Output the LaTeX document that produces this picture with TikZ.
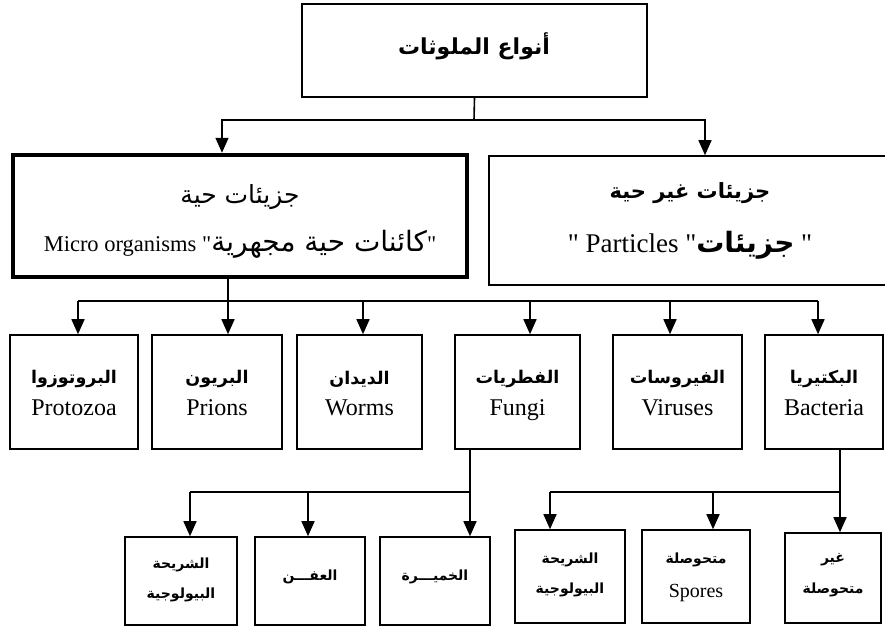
\documentclass[tikz,border=0pt]{standalone}
\usepackage{fontspec}
\setmainfont{Liberation Serif}[Ligatures=TeXOff]
\newfontfamily\arabicfont[Script=Arabic]{DejaVu Sans}
\TeXXeTstate=1
\usetikzlibrary{arrows.meta,calc}
\newcommand{\ar}[1]{{\arabicfont\beginR #1\endR}}
\newcommand{\fs}[1]{\fontsize{#1}{#1}\selectfont}

\begin{document}
\begin{tikzpicture}[x=1pt,y=-1pt,
  box/.style 2 args={draw,line width=1.6pt,minimum width=#1,minimum height=#2,inner sep=0pt},
  conn/.style={line width=1.6pt},
  arr/.style={line width=1.6pt,-{Triangle[width=13pt,length=15pt]}},
  lbl/.style={inner sep=0pt,anchor=center},
  arL/.style={lbl,font=\arabicfont\bfseries\fs{17.5}},
  arS/.style={lbl,font=\arabicfont\bfseries\fs{14}},
  enL/.style={inner sep=0pt,anchor=base,font=\fs{24}}]
\useasboundingbox (0,0) rectangle (885,629);
\clip (0,0) rectangle (885,629);
\fill[white] (0,0) rectangle (885,629);

% root
\node[box={345pt}{93pt}] (root) at (474.5,50.5) {};
\node[lbl,font=\arabicfont\bfseries\fs{22}] (rootT) at (474,46) {\ar{أنواع الملوثات}};

% second level
\node[box={454pt}{122pt},line width=4.5pt] (micro) at (240,216) {};
\node[lbl,font=\arabicfont\fs{25}] (microA) at (240,197) {\ar{جزيئات حية}};
\node[inner sep=0pt,anchor=base,font=\fs{22.5}] (microE) at (240,251) {Micro organisms "{\arabicfont\fs{28}\ar{كائنات حية مجهرية}}"};

\node[box={402pt}{129pt}] (part) at (690,220.5) {};
\node[lbl,font=\arabicfont\bfseries\fs{21}] (partA) at (690,193) {\ar{جزيئات غير حية}};
\node[inner sep=0pt,anchor=base,font=\fs{27}] (partE) at (690,252) {" Particles "{\arabicfont\bfseries\fs{28}\ar{جزيئات}} "};

\coordinate (j0) at (474,120);
\coordinate (j1) at (222,120);
\coordinate (j2) at (705,120);
\draw[conn] (root.south) -- (j0);
\draw[arr] (j0) -- (j1) -- (j1 |- micro.north);
\draw[arr] (j0) -- (j2) -- (j2 |- part.north);

% third level
\node[box={128pt}{114pt}] (prot) at (74,392) {};
\node[box={130pt}{114pt}] (prion) at (217,392) {};
\node[box={125pt}{114pt}] (worm) at (359.5,392) {};
\node[box={125pt}{114pt}] (fungi) at (517.5,392) {};
\node[box={129pt}{114pt}] (virus) at (677.5,392) {};
\node[box={118pt}{114pt}] (bact) at (824,392) {};

\node[arL] (protA) at (74,379) {\ar{البروتوزوا}};
\node[enL] (protE) at (74,415) {Protozoa};
\node[arL] (prionA) at (217,379) {\ar{البريون}};
\node[enL] (prionE) at (217,415) {Prions};
\node[arL] (wormA) at (359.5,379) {\ar{الديدان}};
\node[enL] (wormE) at (359.5,415) {Worms};
\node[arL] (fungiA) at (517.5,379) {\ar{الفطريات}};
\node[enL] (fungiE) at (517.5,415) {Fungi};
\node[arL] (virusA) at (677.5,379) {\ar{الفيروسات}};
\node[enL] (virusE) at (677.5,415) {Viruses};
\node[arL] (bactA) at (824,379) {\ar{البكتيريا}};
\node[enL] (bactE) at (824,415) {Bacteria};

\coordinate (t1) at (78,301);
\coordinate (t2) at (228,301);
\coordinate (t3) at (363,301);
\coordinate (t4) at (530,301);
\coordinate (t5) at (670,301);
\coordinate (t6) at (818,301);
\draw[conn] (t2 |- micro.south) -- (t2);
\draw[conn] (t1) -- (t6);
\draw[arr] (t1) -- (t1 |- prot.north);
\draw[arr] (t2) -- (t2 |- prion.north);
\draw[arr] (t3) -- (t3 |- worm.north);
\draw[arr] (t4) -- (t4 |- fungi.north);
\draw[arr] (t5) -- (t5 |- virus.north);
\draw[arr] (t6) -- (t6 |- bact.north);

% fourth level, under fungi
\node[box={112pt}{88pt}] (fbio) at (181,581) {};
\node[box={110pt}{88pt}] (mold) at (310,581) {};
\node[box={110pt}{88pt}] (yeast) at (435,581) {};
\node[arS] (fbioA) at (181,565) {\ar{الشريحة}};
\node[arS] (fbioB) at (181,595) {\ar{البيولوجية}};
\node[arS] (moldA) at (310,577) {\ar{العفـــن}};
\node[arS] (yeastA) at (435,577) {\ar{الخميـــرة}};

\coordinate (f0) at (470,492);
\coordinate (u1) at (190,492);
\coordinate (u2) at (308,492);
\draw[conn] (f0 |- fungi.south) -- (f0);
\draw[conn] (u1) -- (f0);
\draw[arr] (u1) -- (u1 |- fbio.north);
\draw[arr] (u2) -- (u2 |- mold.north);
\draw[arr] (f0) -- (f0 |- yeast.north);

% fourth level, under bacteria
\node[box={110pt}{93pt}] (bbio) at (570,576.5) {};
\node[box={108pt}{93pt}] (spore) at (696,576.5) {};
\node[box={96pt}{90pt}] (nspore) at (833,578) {};
\node[arS] (bbioA) at (570,560) {\ar{الشريحة}};
\node[arS] (bbioB) at (570,590) {\ar{البيولوجية}};
\node[arS] (sporeA) at (696,560) {\ar{متحوصلة}};
\node[inner sep=0pt,anchor=base,font=\fs{20}] (sporeE) at (696,597) {Spores};
\node[arS] (nsporeA) at (833,560) {\ar{غير}};
\node[arS] (nsporeB) at (833,590) {\ar{متحوصلة}};

\coordinate (g0) at (840,492);
\coordinate (v1) at (550,492);
\coordinate (v2) at (713,492);
\draw[conn] (g0 |- bact.south) -- (g0);
\draw[conn] (v1) -- (g0);
\draw[arr] (v1) -- (v1 |- bbio.north);
\draw[arr] (v2) -- (v2 |- spore.north);
\draw[arr] (g0) -- (g0 |- nspore.north);
\end{tikzpicture}
\end{document}
